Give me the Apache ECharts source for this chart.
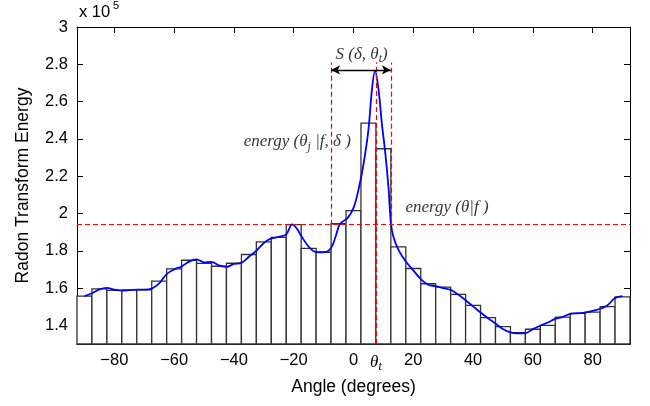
<!DOCTYPE html>
<html>
<head>
<meta charset="utf-8">
<script src="https://cdn.jsdelivr.net/npm/echarts@6/dist/echarts.min.js"></script>
<style>html,body{margin:0;padding:0;background:#fff}#c{width:650px;height:406px}</style>
</head>
<body>
<div id="c"></div>
<script>
// ---- data (energy in units of 1e5) ----
const binCenters = [-90,-85,-80,-75,-70,-65,-60,-55,-50,-45,-40,-35,-30,-25,-20,-15,-10,-5,0,5,10,15,20,25,30,35,40,45,50,55,60,65,70,75,80,85,90];
const binEnergy  = [1.557,1.596,1.588,1.590,1.590,1.637,1.703,1.749,1.732,1.717,1.733,1.780,1.848,1.872,1.940,1.813,1.792,1.945,2.015,2.484,2.347,1.821,1.705,1.623,1.605,1.566,1.507,1.441,1.393,1.361,1.379,1.400,1.444,1.464,1.471,1.500,1.553];
const binWidth = 5;

const curveAngles = [-90,-87.5,-85,-82.5,-80,-77.5,-75,-72.5,-70,-67.5,-65,-62.5,-60,-57.5,-55,-52.5,-50,-47.5,-45,-42.5,-40,-37.5,-35,-32.5,-30,-27.5,-25,-22.5,-20.5,-19,-17.5,-15,-12.5,-10,-7.5,-6,-4.5,-2,0,1.5,3.3,5,6.2,7.2,8.4,9.5,10.6,11.7,12.5,13.3,15,17.5,20,22.5,25,27.5,30,32.5,35,37.5,40,42.5,45,47.5,50,52.5,55,57.5,60,62.5,65,67.5,70,72.5,75,77.5,80,82.5,85,87.5,90];
const curveEnergy = [1.557,1.572,1.593,1.601,1.592,1.586,1.589,1.592,1.592,1.597,1.625,1.675,1.700,1.716,1.742,1.754,1.738,1.740,1.722,1.714,1.729,1.735,1.768,1.800,1.842,1.866,1.874,1.888,1.942,1.920,1.880,1.822,1.793,1.792,1.815,1.875,1.945,1.975,2.030,2.115,2.260,2.450,2.670,2.765,2.660,2.480,2.330,2.140,1.950,1.878,1.806,1.742,1.695,1.648,1.618,1.610,1.600,1.590,1.565,1.535,1.502,1.469,1.438,1.410,1.380,1.362,1.357,1.358,1.380,1.398,1.415,1.435,1.445,1.462,1.465,1.468,1.478,1.489,1.508,1.547,1.557];

const xTicks = [-80,-60,-40,-20,0,20,40,60,80];
const yTicks = [1.4,1.6,1.8,2.0,2.2,2.4,2.6,2.8,3.0];
const thetaT = 7.5;          // θt
const sLeft = -7.5, sRight = 12.5;   // S(δ, θt) window
const thresholdEnergy = 1.94;        // energy(θ|f)
const guideTop = 2.81;
const arrowLevel = 2.77;

const xMin = -92.5, xMax = 92.5, yMin = 1.3, yMax = 3.0;

// ---- chart ----
const chart = echarts.init(document.getElementById('c'), null, {renderer:'canvas'});
const sans = 'Liberation Sans, Arial, sans-serif';
const serif = 'Liberation Serif, Times New Roman, serif';
const axisCol = '#000';

function frameAxis(pos, isX) {
  return {
    type:'value', min: isX ? xMin : yMin, max: isX ? xMax : yMax, position: pos,
    axisLine:{show:true, onZero:false, lineStyle:{color:axisCol, width:1}},
    axisTick:{show:true, inside:true, length:6, customValues: isX ? xTicks : yTicks, lineStyle:{color:axisCol, width:1}},
    axisLabel:{show:false},
    splitLine:{show:false}
  };
}

const xMain = frameAxis('bottom', true);
xMain.axisLabel = {
  show:true, customValues: xTicks.concat([thetaT]), margin:8, color:'#000',
  fontSize:16.5, fontFamily:sans,
  formatter: v => (Math.abs(v - thetaT) < 1e-6) ? '{th|θ}{sub|t}' : String(v).replace('-', '\u2212'),
  rich:{
    th:{fontFamily:serif, fontStyle:'italic', fontSize:17, color:'#000'},
    sub:{fontFamily:serif, fontStyle:'italic', fontSize:12, color:'#000', padding:[9,0,0,0]}
  }
};
xMain.name = 'Angle (degrees)';
xMain.nameLocation = 'middle';
xMain.nameGap = 33;
xMain.nameTextStyle = {fontSize:17.5, fontFamily:sans, color:'#000'};

const yMain = frameAxis('left', false);
yMain.axisLabel = {
  show:true, customValues: yTicks, margin:9, color:'#000', fontSize:16.5, fontFamily:sans,
  formatter: v => String(Math.round(v*10)/10)
};
yMain.name = 'Radon Transform Energy';
yMain.nameLocation = 'middle';
yMain.nameGap = 45;
yMain.nameTextStyle = {fontSize:17.5, fontFamily:sans, color:'#000'};

const redDash = {color:'#ff0000', width:1.2, type:[5,3], opacity:1};
const noBorder = {textBorderWidth:0, textBorderColor:'transparent', textShadowBlur:0};
const italic = Object.assign({fontFamily:serif, fontStyle:'italic', fontSize:17, color:'#000'}, noBorder);
const subSty = Object.assign({fontFamily:serif, fontStyle:'italic', fontSize:12, color:'#000', padding:[9,0,0,0]}, noBorder);

function guide(x1, y1, x2, y2) {
  return [{coord:[x1, y1], lineStyle:redDash}, {coord:[x2, y2]}];
}

const option = {
  animation:false,
  backgroundColor:'#fff',
  grid:{left:77, right:20, top:27, bottom:62, containLabel:false},
  xAxis:[xMain, frameAxis('top', true)],
  yAxis:[yMain, frameAxis('right', false)],
  graphic:[
    {type:'text', left:79, top:4, style:{text:'x 10', font:'16.5px ' + sans, fill:'#000'}},
    {type:'text', left:113, top:0, style:{text:'5', font:'11px ' + sans, fill:'#000'}}
  ],
  series:[
    {
      name:'bins', type:'custom', xAxisIndex:0, yAxisIndex:0,
      data: binCenters.map((c,i) => [c, binEnergy[i]]),
      renderItem:(params, api) => {
        const c = api.value(0), v = api.value(1);
        const p1 = api.coord([c - binWidth/2, v]);
        const p2 = api.coord([c + binWidth/2, yMin]);
        return {type:'rect', shape:{x:p1[0], y:p1[1], width:p2[0]-p1[0], height:p2[1]-p1[1]},
                style:{fill:'#fff', stroke:'#333', lineWidth:1.3}};
      },
      z:2
    },
    {
      name:'energy', type:'line', xAxisIndex:0, yAxisIndex:0,
      data: curveAngles.map((a,i) => [a, curveEnergy[i]]),
      smooth:0.35, showSymbol:false, symbol:'none',
      lineStyle:{color:'#0000ff', width:1.8},
      z:3
    },
    {
      name:'guides', type:'line', xAxisIndex:0, yAxisIndex:0, data:[], z:4,
      color:'#ff0000',
      markLine:{
        silent:true, symbol:['none','none'], label:{show:false}, lineStyle:redDash,
        emphasis:{disabled:true},
        data:[
          guide(xMin, thresholdEnergy, xMax, thresholdEnergy),
          guide(sLeft, thresholdEnergy, sLeft, guideTop),
          guide(sRight, thresholdEnergy, sRight, guideTop),
          guide(thetaT, yMin, thetaT, guideTop)
        ]
      }
    },
    {
      name:'annotations', type:'scatter', xAxisIndex:0, yAxisIndex:0, symbolSize:0, z:5,
      color:'#000',
      label:Object.assign({show:true, position:'inside', color:'#000', rich:{i:italic, s:subSty}}, noBorder),
      data:[
        {value:[2.7, 2.855], label:{formatter:'{i|S (δ, θ}{s|t}{i|)}'}},
        {value:[-18.8, 2.384], label:{formatter:'{i|energy (θ}{s|j}{i| |f, δ )}'}},
        {value:[31.3, 2.031], label:{formatter:'{i|energy (θ|f )}'}}
      ],
      markLine:{
        silent:true, symbol:['arrow','arrow'], symbolSize:[7,9], label:{show:false},
        lineStyle:{color:'#000', width:1.3, type:'solid'},
        data:[[{coord:[sLeft, arrowLevel]}, {coord:[sRight, arrowLevel]}]]
      }
    }
  ]
};
chart.setOption(option);
</script>
</body>
</html>
